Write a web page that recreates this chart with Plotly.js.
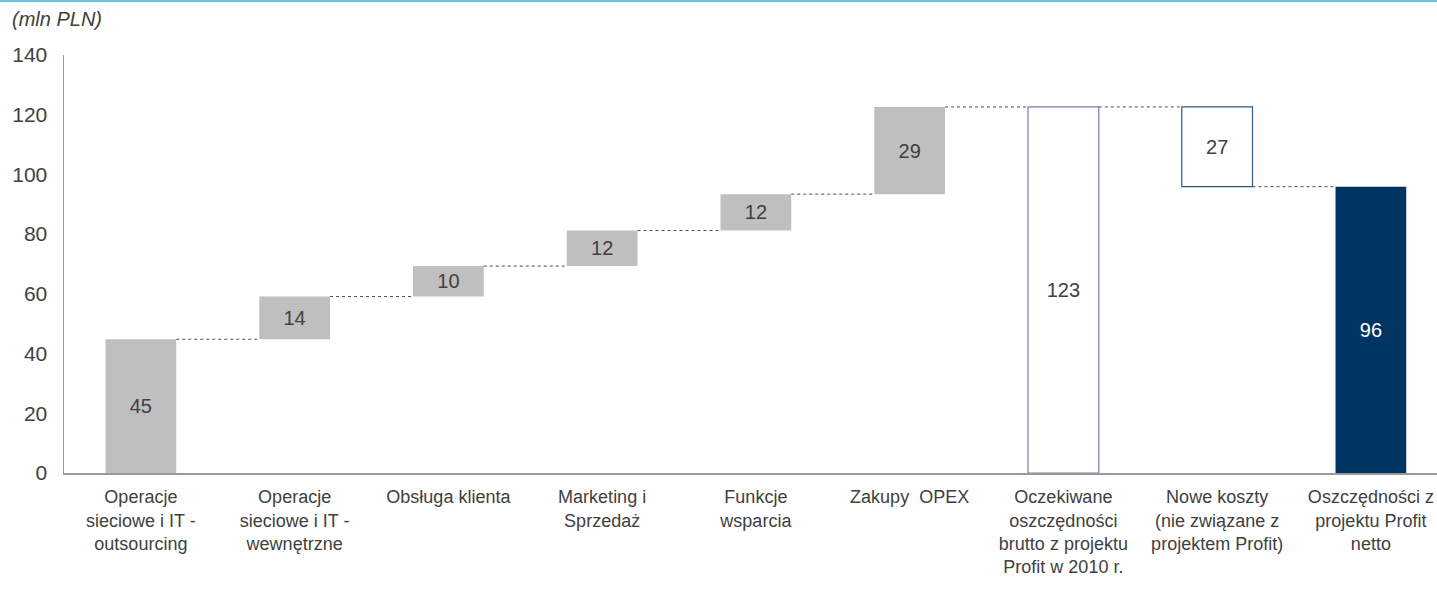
<!DOCTYPE html>
<html>
<head>
<meta charset="utf-8">
<script src="https://cdn.plot.ly/plotly-3.0.1.min.js"></script>
<style>html,body{margin:0;padding:0;background:#fff;}#chart{width:1437px;height:594px;}</style>
</head>
<body>
<div id="chart"></div>
<script>
// Categories (x tick labels)
const categories = [
  "Operacje<br>sieciowe i IT -<br>outsourcing",
  "Operacje<br>sieciowe i IT -<br>wewnętrzne",
  "Obsługa klienta",
  "Marketing i<br>Sprzedaż",
  "Funkcje<br>wsparcia",
  "Zakupy  OPEX",
  "Oczekiwane<br>oszczędności<br>brutto z projektu<br>Profit w 2010 r.",
  "Nowe koszty<br>(nie związane z<br>projektem Profit)",
  "Oszczędności z<br>projektu Profit<br>netto"
];
// Savings steps (mln PLN)
const stepValues = [44.8, 14.3, 10.2, 11.9, 12.2, 29.2];
// Gross total, new costs, net total
const grossTotal = 122.6;
const newCosts = 26.7;
const netTotal = 95.9;
// Y axis ticks
const yTicks = [0, 20, 40, 60, 80, 100, 120, 140];

// Build bars
const bases = [], heights = [], ends = [];
let cum = 0;
stepValues.forEach(v => { bases.push(cum); heights.push(v); cum += v; ends.push(cum); });
bases.push(0); heights.push(grossTotal); ends.push(grossTotal);
bases.push(grossTotal - newCosts); heights.push(newCosts); ends.push(grossTotal - newCosts);
bases.push(0); heights.push(netTotal); ends.push(netTotal);
const labels = heights.map(v => String(Math.round(v)));
const xIdx = categories.map((_, i) => i);

const W = 0.46;
const fillColors = stepValues.map(() => '#bfbfbf').concat(['#ffffff', '#ffffff', '#003462']);
const lineColors = stepValues.map(() => '#bfbfbf').concat(['#7c7aab', '#2a5a86', '#003462']);
const lineWidths = stepValues.map(() => 0).concat([1.2, 1.2, 0]);
const textColors = stepValues.map(() => '#404040').concat(['#404040', '#404040', '#ffffff']);

// Connectors: from right edge of bar i to left edge of bar i+1 at bar i's end level
const cx = [], cy = [];
for (let i = 0; i < categories.length - 1; i++) {
  cx.push(i + W / 2, i + 1 - W / 2, null);
  cy.push(ends[i], ends[i], null);
}

const bars = {
  type: 'bar',
  x: xIdx,
  y: heights,
  base: bases,
  width: W,
  marker: { color: fillColors, line: { color: lineColors, width: lineWidths } },
  text: labels,
  textposition: 'inside',
  insidetextanchor: 'middle',
  constraintext: 'none',
  textangle: 0,
  textfont: { family: 'Liberation Sans, Arial, sans-serif', size: 20, color: textColors },
  hoverinfo: 'skip',
  showlegend: false
};
const connectors = {
  type: 'scatter',
  mode: 'lines',
  x: cx,
  y: cy,
  line: { color: '#505050', width: 1, dash: 'dot' },
  hoverinfo: 'skip',
  showlegend: false
};

const layout = {
  width: 1437,
  height: 594,
  margin: { l: 64, r: 0, t: 55, b: 121, pad: 0 },
  paper_bgcolor: '#ffffff',
  plot_bgcolor: '#ffffff',
  font: { family: 'Liberation Sans, Arial, sans-serif', color: '#404040' },
  title: {
    text: '<i>(mln PLN)</i>',
    font: { family: 'Liberation Sans, Arial, sans-serif', size: 20, color: '#404040' },
    x: 12 / 1437, xanchor: 'left', xref: 'container',
    y: 1 - 19 / 594, yanchor: 'middle', yref: 'container'
  },
  xaxis: {
    range: [-0.5, 8.43],
    tickmode: 'array',
    tickvals: xIdx,
    ticktext: categories,
    tickfont: { size: 18, color: '#404040' },
    showline: true, linecolor: '#999999', linewidth: 1.5,
    showgrid: false, zeroline: false, ticks: '',
    ticklabelstandoff: 7,
    fixedrange: true
  },
  yaxis: {
    range: [0, 140],
    tickmode: 'array',
    tickvals: yTicks,
    ticktext: yTicks.map(String),
    tickfont: { size: 21, color: '#404040' },
    showline: true, linecolor: '#999999', linewidth: 1.5,
    showgrid: false, zeroline: false, ticks: '',
    ticklabelstandoff: 11,
    fixedrange: true
  },
  shapes: [{
    type: 'line', xref: 'paper', yref: 'paper',
    x0: -64 / 1373, x1: 1, y0: 1 + 54 / 418, y1: 1 + 54 / 418,
    line: { color: '#6cc4e2', width: 2 }
  }],
  bargap: 0.5
};

Plotly.newPlot('chart', [bars, connectors], layout, { displayModeBar: false, staticPlot: true });
</script>
</body>
</html>
